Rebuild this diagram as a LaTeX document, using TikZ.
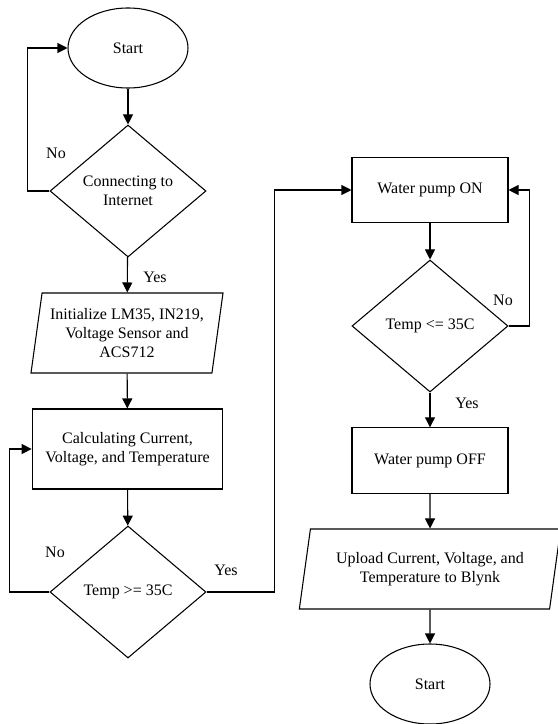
\documentclass[tikz,border=0pt]{standalone}
\usepackage{fontspec}
\setmainfont{Liberation Serif}
\usepackage{tikz}
\usetikzlibrary{shapes.geometric, arrows.meta}
\tikzset{
	startstop/.style={ellipse, minimum width=90pt, minimum height=60pt, text centered, align=center, draw=black, inner sep=1pt},
	process/.style  ={rectangle, minimum width=117pt, minimum height=49pt, text centered, align=center, draw=black},
	io/.style       ={trapezium, trapezium left angle=78, trapezium right angle=102, trapezium stretches body, minimum width=144pt, minimum height=60pt, text centered, align=center, draw=black, inner sep=1pt},
	decision/.style ={diamond, aspect=1.18, minimum width=117pt, minimum height=99pt, text centered, align=center, draw=black, inner sep=0pt},
	flowarrow/.style={-{Triangle[length=7.5pt, width=7.5pt]}},
	lbl/.style      ={inner sep=0pt},
}
\begin{document}
\begin{tikzpicture}[x=0.75pt, y=-0.75pt, font=\fontsize{12}{14.3}\selectfont, line width=0.8pt]
	\useasboundingbox (0,0) rectangle (557,724);
	% left column
	\node[startstop] (start) at (128,48) {Start};
	\node[decision] (conn) at (128,191) {Connecting to\\Internet};
	\node[io] (init) at (127,333) {Initialize LM35, IN219,\\Voltage Sensor and\\ACS712};
	\node[process, minimum width=143pt, minimum height=60pt] (calc) at (127.5,449) {Calculating Current,\\Voltage, and Temperature};
	\node[decision] (tmpHigh) at (128,592) {Temp >= 35C};
	% right column
	\node[process] (pumpOn) at (430,190) {Water pump ON};
	\node[decision] (tmpLow) at (430,326) {Temp <= 35C};
	\node[process] (pumpOff) at (430,460.5) {Water pump OFF};
	\node[io, trapezium left angle=73, trapezium right angle=107, minimum width=196pt] (upload) at (430,569) {Upload Current, Voltage, and\\Temperature to Blynk};
	\node[startstop] (stop) at (430,684) {Start};
	% connectors
	\draw[flowarrow] (start) -- (conn);
	\draw[flowarrow] (conn.west) -- ++(-22,0) |- (start.west);
	\draw[flowarrow] (conn) -- (init);
	\draw[flowarrow] (init) -- (calc);
	\draw[flowarrow] (calc) -- (tmpHigh);
	\draw[flowarrow] (tmpHigh.west) -- ++(-40,0) |- (calc.west);
	\draw[flowarrow] (tmpHigh.east) -- ++(68,0) |- (pumpOn.west);
	\draw[flowarrow] (pumpOn) -- (tmpLow);
	\draw[flowarrow] (tmpLow.east) -- ++(21,0) |- (pumpOn.east);
	\draw[flowarrow] (tmpLow) -- (pumpOff);
	\draw[flowarrow] (pumpOff) -- (upload);
	\draw[flowarrow] (upload) -- (stop);
	% labels
	\node[lbl] (noConn) at (56,153) {No};
	\node[lbl] (yesConn) at (155,277) {Yes};
	\node[lbl] (noHigh) at (55,552) {No};
	\node[lbl] (yesHigh) at (226,570) {Yes};
	\node[lbl] (noLow) at (503,300) {No};
	\node[lbl] (yesLow) at (467,403) {Yes};
\end{tikzpicture}
\end{document}
